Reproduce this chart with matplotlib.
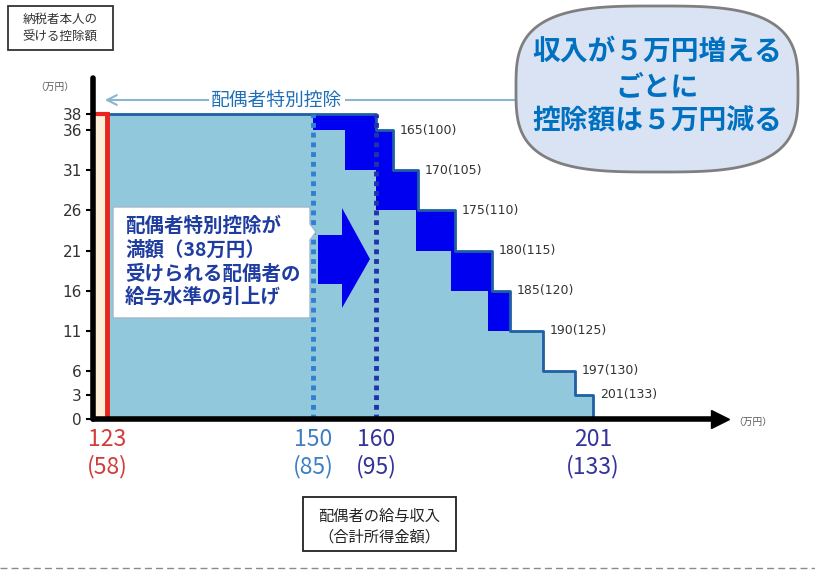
import numpy as np
import matplotlib
matplotlib.use("Agg")
import matplotlib.pyplot as plt
from matplotlib.patches import Rectangle, Polygon

plt.rcParams['font.family'] = ['Noto Sans CJK JP', 'DejaVu Sans']

# ==== データ（万円） ====
levels = [38, 36, 31, 26, 21, 16, 11, 6, 3]                     # 控除額
new_edges = [150, 155, 160, 169.5, 174.5, 179.5, 190, 197, 201]  # 水色の階段の右端（配偶者の給与収入）
old_edges = [160, 165, 170, 175, 180, 185, 190, 197, 201]        # 濃い青の階段の右端
step_income = [165, 170, 175, 180, 185, 190, 197, 201]
step_shotoku = [100, 105, 110, 115, 120, 125, 130, 133]
yticks = [0, 3, 6, 11, 16, 21, 26, 31, 36, 38]
xmarks = [123, 150, 160, 201]
xmarks_shotoku = [58, 85, 95, 133]
xmark_colors = ['#d23c3c', '#3d80c2', '#33339a', '#33339a']
start_income = 123
full_amount = 38

# ==== 横軸は模式図なので区分線形のスケール ====
sc_val = [100, 123, 150, 160, 165, 170, 175, 180, 185, 190, 197, 201, 240]
sc_pos = [-68, 107, 313, 376, 393, 418, 455, 492, 510, 543, 575, 593, 770]


def fwd(v):
    return np.interp(v, sc_val, sc_pos)


def inv(p):
    return np.interp(p, sc_pos, sc_val)


def stair(x, edges):
    idx = np.searchsorted(edges, x, side='right')
    return np.array([levels[i] if i < len(levels) else 0 for i in idx])


fig = plt.figure(figsize=(8.15, 5.74), dpi=100)
ax = fig.add_axes([93 / 815, (574 - 419) / 574, (720 - 93) / 815, (419 - 78) / 574])
ax.set_xscale('function', functions=(fwd, inv))
x0, x1 = float(inv(93)), float(inv(720))
ax.set_xlim(x0, x1)
ax.set_ylim(0, 42.5)

xs = np.array(sorted(set([start_income] + new_edges + old_edges)))
inner = stair(xs, new_edges)
outer = stair(xs, old_edges)

ax.fill_between([x0, start_income], 0, full_amount, color='#fcefd8', lw=0)
ax.fill_between(xs, 0, inner, step='post', color='#92c8dc', lw=0)
ax.fill_between(xs, inner, outer, step='post', color='#0000f0', lw=0)
ax.step(xs, outer, where='post', color='#1f5fa5', lw=2)
ax.plot([start_income, start_income], [0, full_amount], color='#e8241f', lw=3.5)
ax.plot([x0, start_income], [full_amount, full_amount], color='#e8241f', lw=3)
ax.plot([150, 150], [0, full_amount], color='#2f80d0', lw=3.5, linestyle=(0, (1, 1)))
ax.plot([160, 160], [0, full_amount], color='#2233aa', lw=3.5, linestyle=(0, (1, 1)))

for inc, lvl, sho in zip(step_income, levels[1:], step_shotoku):
    ax.annotate(f"{inc}({sho})", xy=(inc, lvl), xytext=(5, 0), textcoords='offset points',
                va='center', ha='left', fontsize=9, family='DejaVu Sans', color='#333333')

# 軸
for s in ['top', 'right']:
    ax.spines[s].set_visible(False)
for s in ['left', 'bottom']:
    ax.spines[s].set_linewidth(4)
    ax.spines[s].set_capstyle('round')
ax.plot(1, 0, '>', color='black', ms=13, transform=ax.transAxes, clip_on=False)
ax.set_xticks([])
ax.set_yticks(yticks)
ax.tick_params(axis='y', length=5, width=1.5, labelsize=11, labelcolor='#333333', pad=3)
for lbl in ax.get_yticklabels():
    lbl.set_fontfamily('DejaVu Sans')
ax.patch.set_alpha(0)

for v, s, c in zip(xmarks, xmarks_shotoku, xmark_colors):
    for txt, dy in [(str(v), -21), (f"({s})", -48)]:
        ax.annotate(txt, xy=(v, 0), xycoords=('data', 'axes fraction'), xytext=(0, dy),
                    textcoords='offset pixels', ha='center', va='center', fontsize=16.5,
                    family=['Liberation Sans Narrow', 'Noto Sans CJK JP'], color=c)

# ==== 注記（ピクセル座標のオーバーレイ） ====
ov = fig.add_axes([0, 0, 1, 1], zorder=3)
ov.set_xlim(0, 815)
ov.set_ylim(574, 0)
ov.axis('off')
ov.patch.set_visible(False)

ov.text(55, 87, '（万円）', fontsize=7, color='#555555', ha='center', va='center')
ov.text(753, 422, '（万円）', fontsize=7, color='#555555', ha='center', va='center')

ov.add_patch(Rectangle((8, 6), 105, 44, fc='white', ec='#333333', lw=1.3))
ov.text(60, 19, '納税者本人の', fontsize=9, color='#333333', ha='center', va='center')
ov.text(60, 37, '受ける控除額', fontsize=9, color='#333333', ha='center', va='center')

ov.add_patch(Rectangle((303, 497), 153, 54, fc='white', ec='#222222', lw=1.3))
ov.text(379, 516, '配偶者の給与収入', fontsize=11, color='#222222', ha='center', va='center')
ov.text(379, 537, '（合計所得金額）', fontsize=11, color='#222222', ha='center', va='center')

ov.plot([0, 815], [568, 568], color='#8a8a8a', lw=1, dashes=(5, 3))

ov.annotate('', xy=(102, 100), xytext=(560, 100),
            arrowprops=dict(arrowstyle='->,head_length=0.7,head_width=0.35', color='#8ab6cf', lw=1.5))
ov.text(277, 100, '配偶者特別控除', fontsize=13.5, color='#1f6fb8', ha='center', va='center',
        bbox=dict(fc='white', ec='none', pad=2))

ov.add_patch(Polygon([(113, 207), (310, 207), (310, 224), (316, 232), (310, 240), (310, 318), (113, 318)],
                     closed=True, fc='white', ec='#9fb6cc', lw=1))
for txt, yy in [('配偶者特別控除が', 226), ('満額（38万円）', 250), ('受けられる配偶者の', 274), ('給与水準の引上げ', 297)]:
    ov.text(125, yy, txt, fontsize=14, fontweight='bold', color='#1f3ca0', ha='left', va='center')

ov.add_patch(Polygon([(318, 235), (342, 235), (342, 208), (370, 259), (342, 308), (342, 284), (318, 284)],
                     closed=True, fc='#0000ee', ec='none'))

# 吹き出し（超楕円）
t = np.linspace(0, 2 * np.pi, 400)
n = 3.2
ex = 657 + 141 * np.sign(np.cos(t)) * np.abs(np.cos(t)) ** (2 / n)
ey = 89 + 83 * np.sign(np.sin(t)) * np.abs(np.sin(t)) ** (2 / n)
ov.add_patch(Polygon(np.column_stack([ex, ey]), closed=True, fc='#dae3f3', ec='#7f7f7f', lw=2, zorder=5))
for txt, yy in [('収入が５万円増える', 52), ('ごとに', 87), ('控除額は５万円減る', 121)]:
    ov.text(657, yy, txt, fontsize=20, fontweight='bold', color='#0070c0', ha='center', va='center', zorder=6)

fig.savefig('out.png', dpi=100)
